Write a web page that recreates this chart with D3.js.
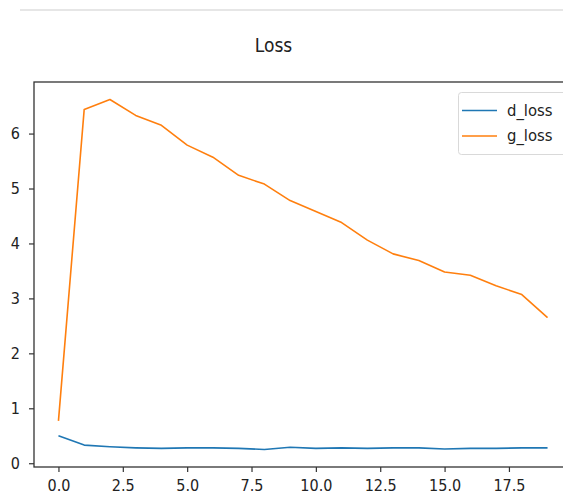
<!DOCTYPE html>
<html>
<head>
<meta charset="utf-8">
<script src="https://cdn.jsdelivr.net/npm/d3@7/dist/d3.min.js"></script>
<style>
  html, body { margin: 0; padding: 0; background: #fff; }
  svg { display: block; }
  text { font-family: "DejaVu Sans Condensed", "DejaVu Sans", sans-serif; fill: #222; }
</style>
</head>
<body>
<svg id="chart" width="563" height="495"></svg>
<script>
const epochs = [0,1,2,3,4,5,6,7,8,9,10,11,12,13,14,15,16,17,18,19];
const dLoss = [0.50,0.33,0.30,0.28,0.27,0.28,0.28,0.27,0.25,0.29,0.27,0.28,0.27,0.28,0.28,0.26,0.27,0.27,0.28,0.28];
const gLoss = [0.77,6.44,6.62,6.33,6.15,5.79,5.57,5.24,5.08,4.78,4.58,4.38,4.06,3.81,3.69,3.48,3.42,3.23,3.07,2.65];
const seriesNames = ["d_loss","g_loss"];
const seriesColors = ["#1f77b4","#ff7f0e"];
const xTicks = [0,2.5,5,7.5,10,12.5,15,17.5];
const yTicks = [0,1,2,3,4,5,6];
const title = "Loss";

const svg = d3.select("#chart");
const plot = {left: 34, top: 82, right: 572, bottom: 467};
const FONT = '"DejaVu Sans Condensed", "DejaVu Sans", sans-serif';

// top separator line
svg.append("rect").attr("x", 20).attr("y", 9).attr("width", 543).attr("height", 2).attr("fill", "#e6e6e6");

svg.append("text").attr("x", 273.5).attr("y", 52).attr("text-anchor", "middle")
  .attr("font-size", 19).text(title);

const all = dLoss.concat(gLoss);
const yMin = d3.min(all), yMax = d3.max(all);
const yPad = (yMax - yMin) * 0.05;
const xPad = (d3.max(epochs) - d3.min(epochs)) * 0.05;

const x = d3.scaleLinear().domain([d3.min(epochs) - xPad, d3.max(epochs) + xPad]).range([plot.left, plot.right]);
const y = d3.scaleLinear().domain([yMin - yPad, yMax + yPad]).range([plot.bottom, plot.top]);

const xAxis = d3.axisBottom(x).tickValues(xTicks).tickFormat(d3.format(".1f")).tickSize(5).tickPadding(8);
const yAxis = d3.axisLeft(y).tickValues(yTicks).tickFormat(d3.format("d")).tickSize(5).tickPadding(9);

const gx = svg.append("g").attr("transform", `translate(0,${plot.bottom})`).call(xAxis);
const gy = svg.append("g").attr("transform", `translate(${plot.left},0)`).call(yAxis);
[gx, gy].forEach(g => {
  g.select(".domain").remove();
  g.selectAll(".tick line").attr("stroke", "#333").attr("stroke-width", 1.2);
  g.selectAll(".tick text").attr("font-size", 16).attr("fill", "#222").style("font-family", FONT);
});

const line = d3.line().x((d, i) => x(epochs[i])).y(d => y(d));
[dLoss, gLoss].forEach((s, k) => {
  svg.append("path").datum(s).attr("d", line).attr("fill", "none")
    .attr("stroke", seriesColors[k]).attr("stroke-width", 1.6).attr("stroke-linejoin", "round");
});

// spines
svg.append("rect").attr("x", plot.left).attr("y", plot.top)
  .attr("width", plot.right - plot.left).attr("height", plot.bottom - plot.top)
  .attr("fill", "none").attr("stroke", "#333").attr("stroke-width", 1.3);

// legend
const lg = svg.append("g");
lg.append("rect").attr("x", 458.5).attr("y", 92.5).attr("width", 110).attr("height", 62).attr("rx", 3)
  .attr("fill", "#fff").attr("fill-opacity", 0.8).attr("stroke", "#d9d9d9");
seriesNames.forEach((n, k) => {
  const yy = 110.5 + k * 25.5;
  lg.append("line").attr("x1", 462).attr("x2", 497).attr("y1", yy).attr("y2", yy)
    .attr("stroke", seriesColors[k]).attr("stroke-width", 1.6);
  lg.append("text").attr("x", 507).attr("y", yy + 5).attr("font-size", 16.5).text(n);
});
</script>
</body>
</html>
